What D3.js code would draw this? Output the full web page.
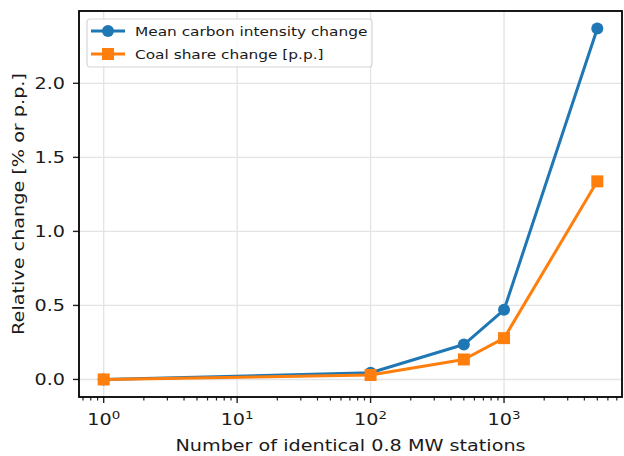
<!DOCTYPE html>
<head>
  <meta charset="utf-8">
  <script src="https://cdn.jsdelivr.net/npm/d3@7"></script>
  <style>
    body { margin:0; background:#fff; }
    text { font-family:"DejaVu Sans", sans-serif; fill:#1a1a1a; }
  </style>
</head>
<body>
<script>
// data
var stations = [1, 100, 500, 1000, 5000];
var carbonChange = [0.0, 0.045, 0.236, 0.47, 2.37];
var coalChange = [0.0, 0.03, 0.135, 0.279, 1.338];
var yTicks = [0.0, 0.5, 1.0, 1.5, 2.0];
var xTicks = [1, 10, 100, 1000];
var seriesNames = ["Mean carbon intensity change", "Coal share change [p.p.]"];
var colors = ["#1f77b4", "#ff7f0e"];

var width = 624, height = 456;
var pLeft = 79, pRight = 622, pTop = 11, pBottom = 397;
var sx = 1.28; // text in the reference is wider than DejaVu

var svg = d3.select("body").append("svg")
  .attr("width", width).attr("height", height);

var x = d3.scaleLog()
  .domain([Math.pow(10, -0.185), Math.pow(10, 3.884)])
  .range([pLeft, pRight]);
var y = d3.scaleLinear()
  .domain([-0.1185, 2.4885])
  .range([pBottom, pTop]);

// grid
svg.append("g").selectAll("line").data(xTicks).enter().append("line")
  .attr("x1", d => x(d)).attr("x2", d => x(d))
  .attr("y1", pTop).attr("y2", pBottom)
  .attr("stroke", "#e4e4e4").attr("stroke-width", 1.4);
svg.append("g").selectAll("line").data(yTicks).enter().append("line")
  .attr("x1", pLeft).attr("x2", pRight)
  .attr("y1", d => y(d)).attr("y2", d => y(d))
  .attr("stroke", "#e4e4e4").attr("stroke-width", 1.4);

// minor ticks on x
var minor = [];
[0.1, 1, 10, 100, 1000].forEach(function(dec) {
  for (var k = 2; k <= 9; k++) {
    var v = dec * k;
    if (v >= x.domain()[0] && v <= x.domain()[1]) minor.push(v);
  }
});
svg.append("g").selectAll("line").data(minor).enter().append("line")
  .attr("x1", d => x(d)).attr("x2", d => x(d))
  .attr("y1", pBottom).attr("y2", pBottom + 3.5)
  .attr("stroke", "#222").attr("stroke-width", 1.2);
svg.append("g").selectAll("line").data(xTicks).enter().append("line")
  .attr("x1", d => x(d)).attr("x2", d => x(d))
  .attr("y1", pBottom).attr("y2", pBottom + 6)
  .attr("stroke", "#222").attr("stroke-width", 1.4);
svg.append("g").selectAll("line").data(yTicks).enter().append("line")
  .attr("x1", pLeft - 6).attr("x2", pLeft)
  .attr("y1", d => y(d)).attr("y2", d => y(d))
  .attr("stroke", "#222").attr("stroke-width", 1.4);

// tick labels
var xl = svg.append("g").selectAll("g").data(xTicks).enter().append("g")
  .attr("transform", d => "translate(" + x(d) + ",424.5) scale(" + sx + ",1)");
xl.append("text").attr("text-anchor", "middle").style("font-size", "15px")
  .each(function(d) {
    var t = d3.select(this);
    t.append("tspan").text("10");
    t.append("tspan").attr("dy", -6).style("font-size", "10.5px")
      .text(Math.round(Math.log10(d)));
  });
svg.append("g").selectAll("g").data(yTicks).enter().append("g")
  .attr("transform", d => "translate(" + (pLeft - 14) + "," + (y(d) + 5.5) + ") scale(" + sx + ",1)")
  .append("text").attr("text-anchor", "end").style("font-size", "15px")
  .text(d => d.toFixed(1));

// axis labels
svg.append("g").attr("transform", "translate(" + ((pLeft + pRight) / 2) + ",451) scale(" + sx + ",1)")
  .append("text").attr("text-anchor", "middle").style("font-size", "15px")
  .text("Number of identical 0.8 MW stations");
svg.append("g").attr("transform", "translate(24," + ((pTop + pBottom) / 2) + ") rotate(-90) scale(" + sx + ",1)")
  .append("text").attr("text-anchor", "middle").style("font-size", "15px")
  .text("Relative change [% or p.p.]");

// lines
var line = d3.line().x(d => x(d[0])).y(d => y(d[1]));
var series = [carbonChange, coalChange];
series.forEach(function(vals, i) {
  var pts = stations.map((s, j) => [s, vals[j]]);
  svg.append("path").datum(pts).attr("d", line)
    .attr("fill", "none").attr("stroke", colors[i]).attr("stroke-width", 3)
    .attr("stroke-linejoin", "round");
  if (i == 0) {
    svg.append("g").selectAll("circle").data(pts).enter().append("circle")
      .attr("cx", d => x(d[0])).attr("cy", d => y(d[1])).attr("r", 6)
      .attr("fill", colors[i]);
  } else {
    svg.append("g").selectAll("rect").data(pts).enter().append("rect")
      .attr("x", d => x(d[0]) - 6).attr("y", d => y(d[1]) - 6)
      .attr("width", 12).attr("height", 12).attr("fill", colors[i]);
  }
});

// frame
svg.append("rect").attr("x", pLeft).attr("y", pTop)
  .attr("width", pRight - pLeft).attr("height", pBottom - pTop)
  .attr("fill", "none").attr("stroke", "#000").attr("stroke-width", 1.8);

// legend
var lg = svg.append("g").attr("transform", "translate(87,19)");
lg.append("rect").attr("width", 285).attr("height", 48).attr("rx", 3)
  .attr("fill", "#fff").attr("fill-opacity", 0.85)
  .attr("stroke", "#d6d6d6").attr("stroke-width", 1.2);
seriesNames.forEach(function(name, i) {
  var ry = 12 + i * 23;
  lg.append("line").attr("x1", 4).attr("x2", 38).attr("y1", ry).attr("y2", ry)
    .attr("stroke", colors[i]).attr("stroke-width", 3);
  if (i == 0) {
    lg.append("circle").attr("cx", 21).attr("cy", ry).attr("r", 6).attr("fill", colors[i]);
  } else {
    lg.append("rect").attr("x", 15).attr("y", ry - 6).attr("width", 12).attr("height", 12)
      .attr("fill", colors[i]);
  }
  lg.append("g").attr("transform", "translate(48," + (ry + 4.5) + ") scale(" + sx + ",1)")
    .append("text").style("font-size", "12px").text(name);
});
</script>
</body>
